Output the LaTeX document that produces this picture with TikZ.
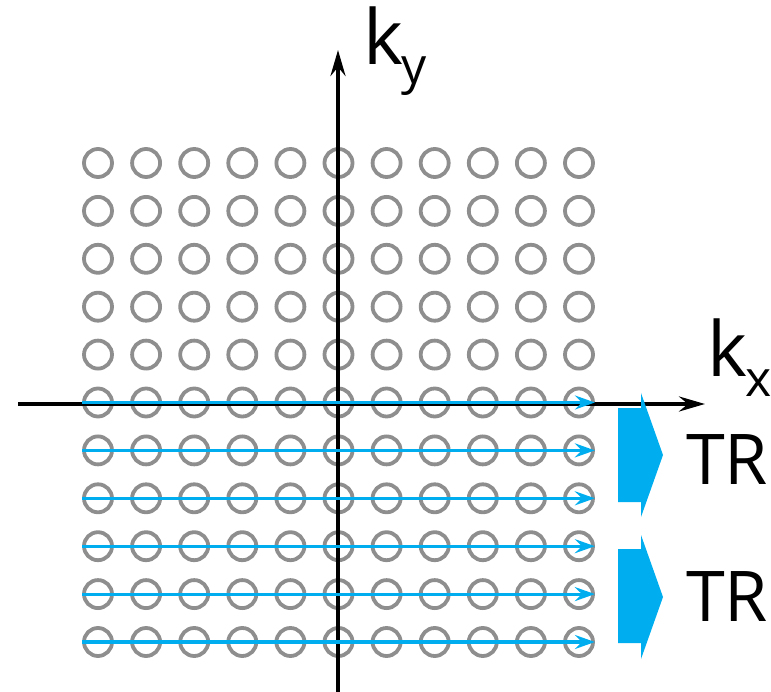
\documentclass[tikz,border=0pt]{standalone}
\usepackage{fontspec}
\setmainfont{Open Sans}
\usetikzlibrary{arrows.meta}

\definecolor{trblue}{HTML}{00AEEF}
\definecolor{ptgray}{HTML}{8E8E8E}

\begin{document}
\begin{tikzpicture}[x=1pt, y=-1pt,
    kpoint/.style={circle, draw=ptgray, line width=3.8pt, minimum size=28pt, inner sep=0pt},
    axis/.style={line width=4pt, -{Stealth[length=26pt, width=15pt, inset=9pt]}},
    readout/.style={trblue, line width=3.2pt, -{Stealth[length=20pt, width=14pt, inset=7pt]}},
    axlabel/.style={font=\fontsize{76}{76}\selectfont, inner sep=0pt, anchor=base west},
    trlabel/.style={font=\fontsize{70}{70}\selectfont, inner sep=0pt}]
    \useasboundingbox (0,0) rectangle (771,692);

    % k-space sample points
    \foreach \r in {1,...,11}
      \foreach \c in {1,...,11}
        \node[kpoint] (p-\r-\c) at ({98+48.1*(\c-1)}, {163+47.9*(\r-1)}) {};

    % axes
    \coordinate (xl) at (18,404);
    \coordinate (xr) at (705,404);
    \coordinate (yb) at (338,692);
    \coordinate (yt) at (338,50);
    \draw[axis] (xl) -- (xr);
    \draw[axis] (yb) -- (yt);

    % readout lines
    \foreach \r in {6,...,11}
      \draw[readout] (p-\r-1.west) -- (p-\r-11.east);

    % TR blocks
    \fill[trblue] (618,408) -- (641,408) -- (641,393) -- (663,455) -- (641,517) -- (641,502) -- (618,502) -- cycle;
    \fill[trblue] (618,549) -- (641,549) -- (641,535) -- (663,597) -- (641,659) -- (641,643) -- (618,643) -- cycle;

    % labels
    \node[axlabel] (ky) at (363,65) {k\kern-2pt\raisebox{-19pt}{\fontsize{50}{50}\selectfont y}};
    \node[axlabel] (kx) at (707,377) {k\kern-2pt\raisebox{-20pt}{\fontsize{50}{50}\selectfont x}};
    \node[trlabel] (tr1) at (727,460) {TR};
    \node[trlabel] (tr2) at (727,597) {TR};

\end{tikzpicture}
\end{document}
